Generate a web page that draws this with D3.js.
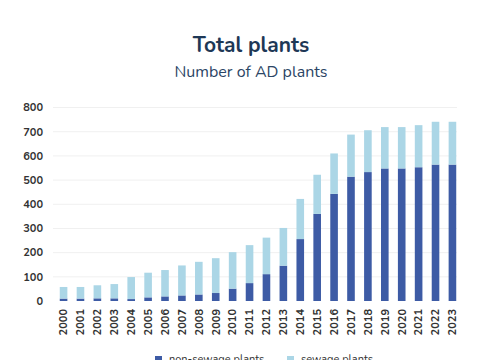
<!DOCTYPE html>
<html>
<head>
<meta charset="utf-8">
<script src="https://cdn.jsdelivr.net/npm/d3@7"></script>
<style>
  body { margin: 0; background: #fff; }
  svg { display: block; font-family: "Nunito", "Lato", "Open Sans", sans-serif; }
</style>
</head>
<body>
<svg width="485" height="360"></svg>
<script>
var years = ["2000","2001","2002","2003","2004","2005","2006","2007","2008","2009","2010","2011",
             "2012","2013","2014","2015","2016","2017","2018","2019","2020","2021","2022","2023"];
var nonSewage = [10,10,11,11,8,15,19,23,27,33,51,74,111,146,256,360,443,514,533,548,548,553,564,564];
var sewage    = [48,48,54,59,91,102,109,124,135,144,151,157,151,156,166,162,167,174,173,171,171,174,177,177];
var yTicks = [0,100,200,300,400,500,600,700,800];
var seriesNames = ["non-sewage plants", "sewage plants"];
var colors = ["#3d5ba5", "#abd6e6"];

var svg = d3.select("svg");

var x = d3.scaleBand()
    .domain(years)
    .range([53, 463])
    .paddingInner(0.55)
    .paddingOuter(0.4);

var y = d3.scaleLinear()
    .domain([0, 800])
    .range([301, 107.5]);

// gridlines
svg.append("g").selectAll("line")
    .data(yTicks.slice(1))
  .enter().append("line")
    .attr("x1", 53)
    .attr("x2", 457)
    .attr("y1", function(d) { return y(d); })
    .attr("y2", function(d) { return y(d); })
    .style("stroke", "#f0f0f0")
    .style("stroke-width", 1);

// y labels
svg.append("g").selectAll("text")
    .data(yTicks)
  .enter().append("text")
    .attr("x", 43)
    .attr("y", function(d) { return y(d); })
    .attr("dy", ".35em")
    .attr("text-anchor", "end")
    .style("font-size", "11px")
    .style("font-weight", "bold")
    .style("fill", "#333")
    .text(function(d) { return d; });

var rows = years.map(function(yr, i) {
  return {year: yr, nonSewage: nonSewage[i], sewage: sewage[i]};
});
var stack = d3.stack().keys(["nonSewage", "sewage"]);
var layers = stack(rows);

svg.append("g").selectAll("g")
    .data(layers)
  .enter().append("g")
    .style("fill", function(d, i) { return colors[i]; })
  .selectAll("rect")
    .data(function(d) { return d; })
  .enter().append("rect")
    .attr("x", function(d) { return x(d.data.year); })
    .attr("width", x.bandwidth())
    .attr("y", function(d) { return y(d[1]); })
    .attr("height", function(d) { return y(d[0]) - y(d[1]); });

// x labels, rotated
svg.append("g").selectAll("text")
    .data(years)
  .enter().append("text")
    .attr("transform", function(d) {
      return "translate(" + (x(d) + x.bandwidth() / 2) + ",309) rotate(-90)";
    })
    .attr("dy", ".35em")
    .attr("text-anchor", "end")
    .style("font-size", "11px")
    .style("font-weight", "bold")
    .style("fill", "#333")
    .text(function(d) { return d; });

// titles
svg.append("text")
    .attr("x", 251)
    .attr("y", 52)
    .attr("text-anchor", "middle")
    .style("font-size", "21px")
    .style("font-weight", "bold")
    .style("fill", "#1e3856")
    .text("Total plants");

svg.append("text")
    .attr("x", 251)
    .attr("y", 77)
    .attr("text-anchor", "middle")
    .style("font-size", "16px")
    .style("fill", "#2b4565")
    .text("Number of AD plants");

// legend (cut off at the bottom like the reference)
var legendX = [155, 287];
var lg = svg.append("g").selectAll("g")
    .data(seriesNames)
  .enter().append("g")
    .attr("transform", function(d, i) { return "translate(" + legendX[i] + ",356)"; });

lg.append("rect")
    .attr("width", 7)
    .attr("height", 7)
    .style("fill", function(d, i) { return colors[i]; });

lg.append("text")
    .attr("x", 14)
    .attr("y", 7)
    .style("font-size", "11px")
    .style("fill", "#333")
    .text(function(d) { return d; });
</script>
</body>
</html>
